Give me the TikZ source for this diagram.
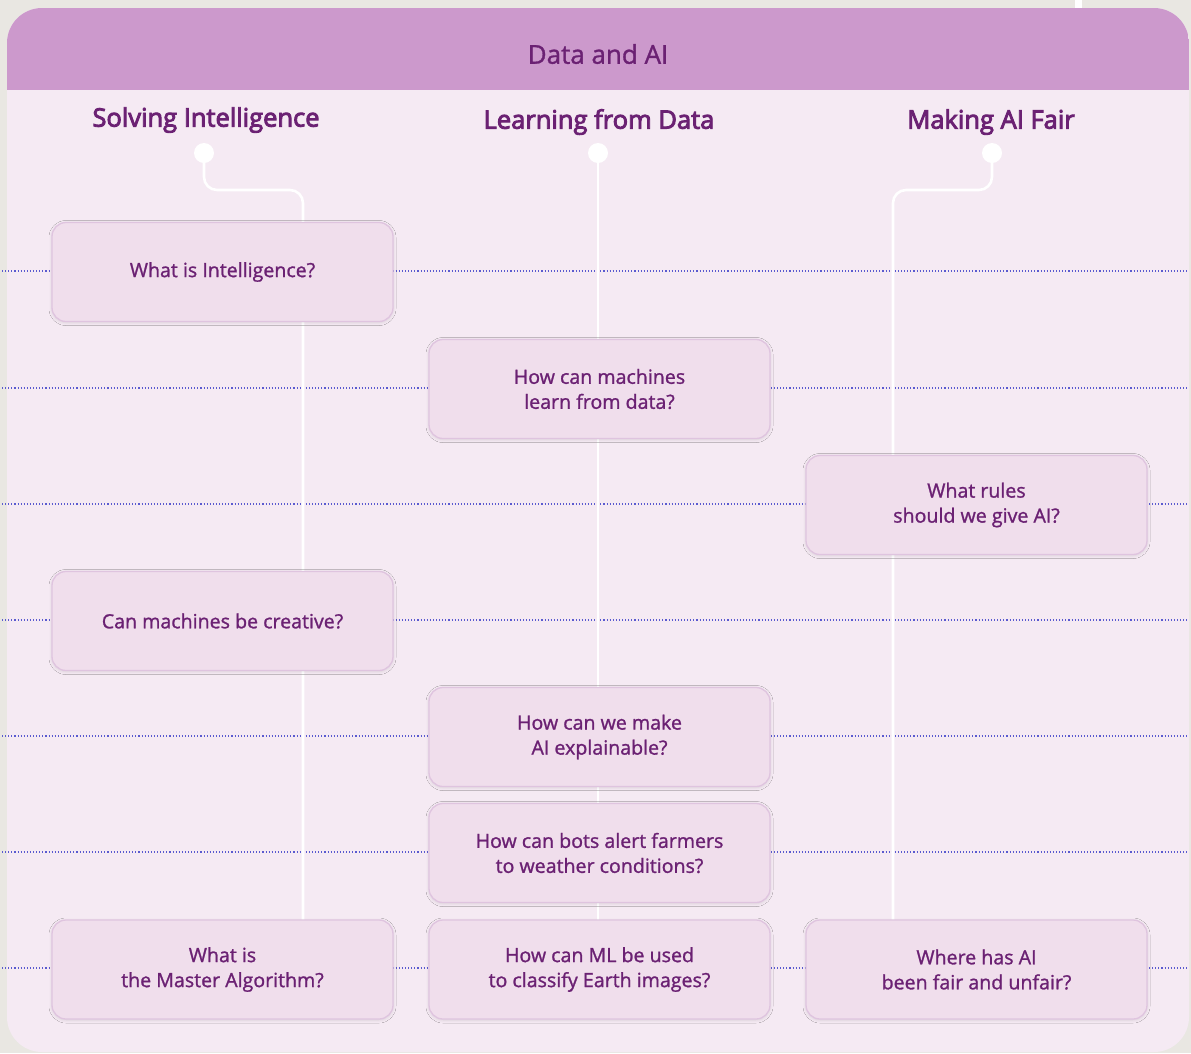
\documentclass[tikz,border=0pt]{standalone}
\usepackage{fontspec}
\setmainfont{Open Sans}
\newfontfamily\medf{Open Sans}[FakeBold=1.2]
\newfontfamily\semif{Open Sans}[FakeBold=3.5]
\usetikzlibrary{shadows.blur}
\definecolor{bgc}{HTML}{E9E7E2}
\definecolor{headc}{HTML}{CC99CC}
\definecolor{bodyc}{HTML}{F5EAF3}
\definecolor{boxc}{HTML}{F0DEEC}
\definecolor{boxedge}{HTML}{DFC4DF}
\definecolor{txt}{HTML}{6B2173}
\definecolor{dotc}{HTML}{5A5ACF}
\tikzset{
  qbox/.style={rectangle, rounded corners=14, fill=boxc, draw=boxedge, line width=1.3,
    minimum width=341, minimum height=99, align=center, text=txt,
    font=\medf\fontsize{19.6}{25}\selectfont,
    blur shadow={shadow xshift=0pt, shadow yshift=-1pt, shadow blur radius=3pt,
      shadow opacity=12}},
  coltitle/.style={text=txt, font=\semif\fontsize{25.5}{30}\selectfont},
  hdr/.style={text=txt, font=\medf\fontsize{26}{30}\selectfont},
  dotline/.style={dotc, dotted, line width=1.1},
  wline/.style={white, line width=2.6, rounded corners=13},
  dotnode/.style={circle, fill=white, inner sep=0pt, minimum size=20}
}
\begin{document}
\begin{tikzpicture}[x=1pt,y=-1pt]
\useasboundingbox (0,0) rectangle (1191,1053);
\fill[bgc] (0,0) rectangle (1191,1053);
\fill[white] (1075,0) rectangle (1082,10);
% card
\fill[bodyc, rounded corners=35] (7,8) rectangle (1189,1052);
\begin{scope}
  \clip[rounded corners=35] (7,8) rectangle (1189,1052);
  \fill[headc] (7,8) rectangle (1189,90);
\end{scope}
\node[hdr] (hdr) at (598,54) {Data and AI};
% column titles
\node[coltitle] (t1) at (206,120) {Solving Intelligence};
\node[coltitle] (t2) at (599,122) {Learning from Data};
\node[coltitle] (t3) at (991,122) {Making AI Fair};
% dotted guide lines
\foreach \yy/\nm in {271/r1,388/r2,504/r3,620/r4,736/r5,852/r6,968/r7}{
  \coordinate (\nm L) at (2,\yy);
  \coordinate (\nm R) at (1188,\yy);
  \draw[dotline] (\nm L) -- (\nm R);
}
% circles
\node[dotnode] (c1) at (204,153) {};
\node[dotnode] (c2) at (598,153) {};
\node[dotnode] (c3) at (992,153) {};
\coordinate (e1) at (303,920);
\coordinate (e2) at (598,920);
\coordinate (e3) at (893,920);
\draw[wline] (c1.center) -- (204,190) -- (303,190) -- (e1);
\draw[wline] (c2.center) -- (e2);
\draw[wline] (c3.center) -- (992,190) -- (893,190) -- (e3);
% boxes
\node[qbox] (b1) at (222.5,272) {What is Intelligence?};
\node[qbox] (b2) at (599.5,389) {How can machines\\learn from data?};
\node[qbox] (b3) at (976.5,505) {What rules\\should we give AI?};
\node[qbox] (b4) at (222.5,621) {Can machines be creative?};
\node[qbox] (b5) at (599.5,737) {How can we make\\AI explainable?};
\node[qbox] (b6) at (599.5,853) {How can bots alert farmers\\to weather conditions?};
\node[qbox] (b7) at (222.5,969.5) {What is\\the Master Algorithm?};
\node[qbox] (b8) at (599.5,969.5) {How can ML be used\\to classify Earth images?};
\node[qbox] (b9) at (976.5,969.5) {Where has AI\\been fair and unfair?};
\end{tikzpicture}
\end{document}
